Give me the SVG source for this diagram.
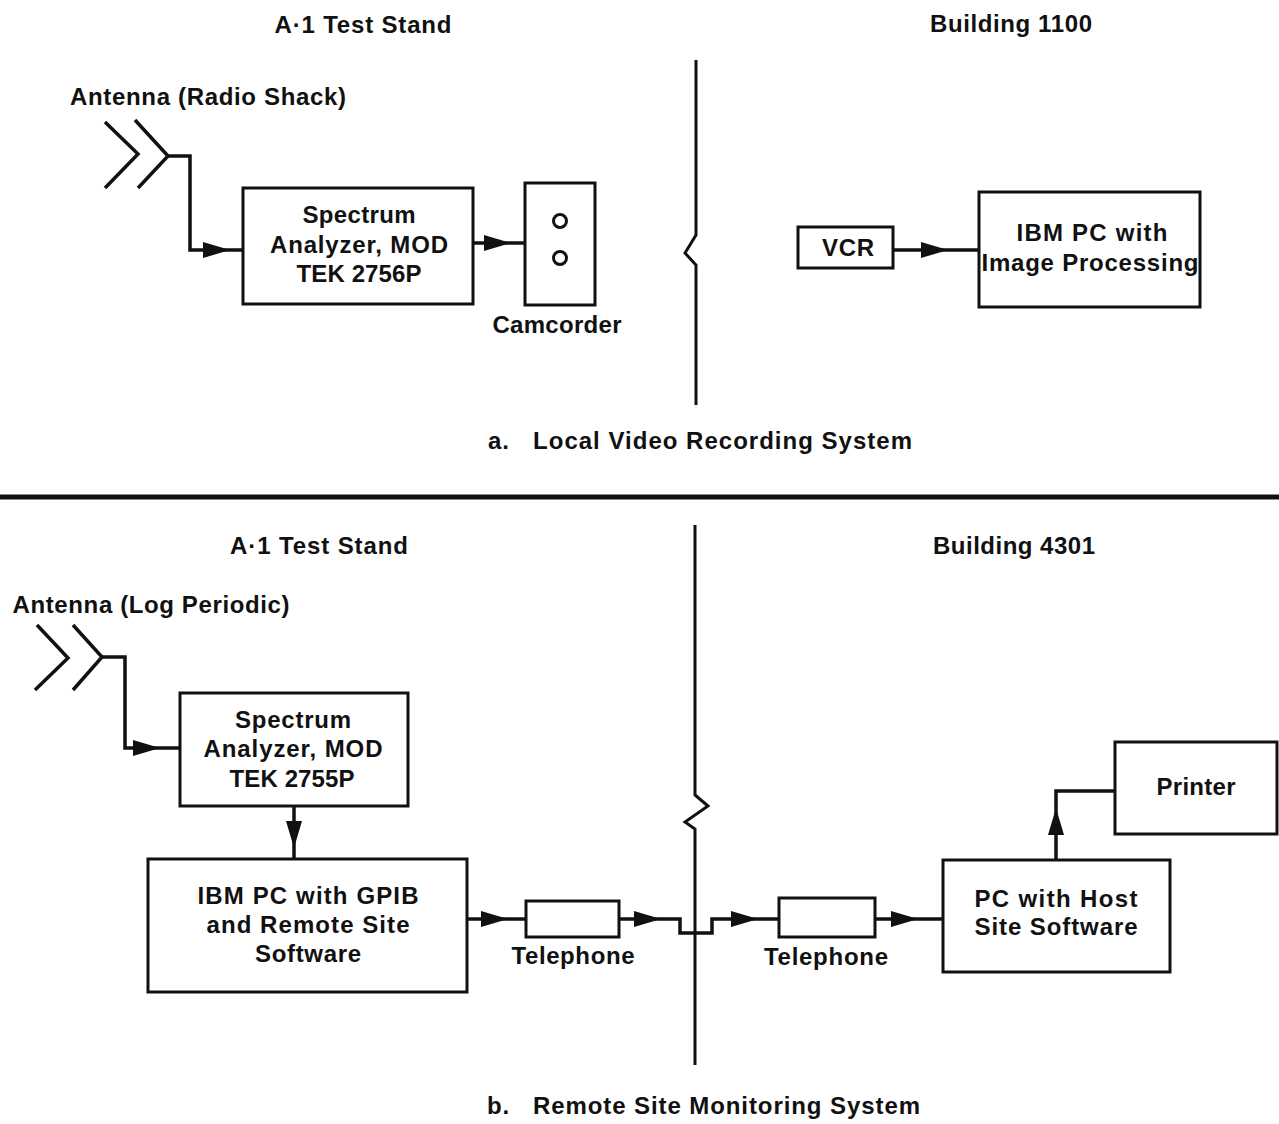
<svg xmlns="http://www.w3.org/2000/svg" xmlns:xlink="http://www.w3.org/1999/xlink" width="1279" height="1124" viewBox="0 0 1279 1124">
  <style>
    text { font-family: "Liberation Sans", Arial, Helvetica, sans-serif; font-weight: bold; font-size: 24px; fill: #111; }
    .box { fill: #fff; stroke: #111; stroke-width: 3; }
    .wire { fill: none; stroke: #111; stroke-width: 3.5; stroke-linejoin: miter; }
    .div { fill: none; stroke: #111; stroke-width: 3; }
    .ah { fill: #111; }
  </style>
  <defs>
    <!-- arrowhead pointing along +x, tip at origin -->
    <path id="ah" class="ah" d="M0,0 L-27,-8 L-27,8 Z"/>
  </defs>
  <rect width="1279" height="1124" fill="#fff"/>

  <!-- section dividers -->
  <g id="dividers">
    <path class="div" d="M696,60 V235 L685,253 L696,265 V405"/>
    <path class="div" d="M695,525 V795 L708,806 L685,822 L695,829 V1065"/>
    <line x1="0" y1="497" x2="1279" y2="497" stroke="#111" stroke-width="5"/>
  </g>

  <!-- headings and captions -->
  <g id="labels">
    <text x="363" y="33" text-anchor="middle" textLength="177" lengthAdjust="spacing">A·1 Test Stand</text>
    <text x="1011" y="32" text-anchor="middle" textLength="162" lengthAdjust="spacing">Building 1100</text>
    <text x="488" y="449" textLength="424" lengthAdjust="spacing" xml:space="preserve">a.   Local Video Recording System</text>
    <text x="319" y="554" text-anchor="middle" textLength="178" lengthAdjust="spacing">A·1 Test Stand</text>
    <text x="1014" y="554" text-anchor="middle" textLength="162" lengthAdjust="spacing">Building 4301</text>
    <text x="487" y="1114" textLength="433" lengthAdjust="spacing" xml:space="preserve">b.   Remote Site Monitoring System</text>
  </g>

  <!-- connectors -->
  <g id="connectors">
    <path class="wire" d="M168,156 H190 V250 H243"/>
    <use xlink:href="#ah" transform="translate(230,250)"/>
    <path class="wire" d="M473,243 H525"/>
    <use xlink:href="#ah" transform="translate(511,243)"/>
    <path class="wire" d="M893,250 H979"/>
    <use xlink:href="#ah" transform="translate(948,250)"/>

    <path class="wire" d="M102,657 H125 V748 H180"/>
    <use xlink:href="#ah" transform="translate(160,748)"/>
    <path class="wire" d="M294,806 V859"/>
    <use xlink:href="#ah" transform="translate(294,848) rotate(90)"/>
    <path class="wire" d="M467,919 H526"/>
    <use xlink:href="#ah" transform="translate(508,919)"/>
    <path class="wire" d="M619,919 H680 V933 H712 V919 H779"/>
    <use xlink:href="#ah" transform="translate(661,919)"/>
    <use xlink:href="#ah" transform="translate(758,919)"/>
    <path class="wire" d="M875,919 H943"/>
    <use xlink:href="#ah" transform="translate(918,919)"/>
    <path class="wire" d="M1056,860 V791 H1115"/>
    <use xlink:href="#ah" transform="translate(1056,808) rotate(-90)"/>
  </g>

  <!-- (a) local video recording -->
  <g id="antenna-radio-shack">
    <path class="wire" d="M105,122 L138,154 L105,188 M135,120 L168,156 L138,188"/>
    <text x="208" y="105" text-anchor="middle" textLength="276" lengthAdjust="spacing">Antenna (Radio Shack)</text>
  </g>
  <g id="spectrum-analyzer-2756">
    <rect class="box" x="243" y="188" width="230" height="116"/>
    <text x="359" y="223" text-anchor="middle" textLength="113" lengthAdjust="spacing">Spectrum</text>
    <text x="359" y="253" text-anchor="middle" textLength="178" lengthAdjust="spacing">Analyzer, MOD</text>
    <text x="359" y="282" text-anchor="middle" textLength="125" lengthAdjust="spacing">TEK 2756P</text>
  </g>
  <g id="camcorder">
    <rect class="box" x="525" y="183" width="70" height="122"/>
    <circle cx="560" cy="221" r="6.5" fill="none" stroke="#111" stroke-width="3"/>
    <circle cx="560" cy="258" r="6.5" fill="none" stroke="#111" stroke-width="3"/>
    <text x="557" y="333" text-anchor="middle" textLength="129" lengthAdjust="spacing">Camcorder</text>
  </g>
  <g id="vcr">
    <rect class="box" x="798" y="227" width="95" height="41"/>
    <text x="848" y="256" text-anchor="middle" textLength="52" lengthAdjust="spacing">VCR</text>
  </g>
  <g id="ibm-pc-image-processing">
    <rect class="box" x="979" y="192" width="221" height="115"/>
    <text x="1092" y="241" text-anchor="middle" textLength="151" lengthAdjust="spacing">IBM PC with</text>
    <text x="1090" y="271" text-anchor="middle" textLength="217" lengthAdjust="spacing">Image Processing</text>
  </g>

  <!-- (b) remote site monitoring -->
  <g id="antenna-log-periodic">
    <path class="wire" d="M37,625 L68,658 L35,690 M73,625 L102,657 L73,690"/>
    <text x="151" y="613" text-anchor="middle" textLength="277" lengthAdjust="spacing">Antenna (Log Periodic)</text>
  </g>
  <g id="spectrum-analyzer-2755">
    <rect class="box" x="180" y="693" width="228" height="113"/>
    <text x="293" y="728" text-anchor="middle" textLength="116" lengthAdjust="spacing">Spectrum</text>
    <text x="293" y="757" text-anchor="middle" textLength="179" lengthAdjust="spacing">Analyzer, MOD</text>
    <text x="292" y="787" text-anchor="middle" textLength="125" lengthAdjust="spacing">TEK 2755P</text>
  </g>
  <g id="ibm-pc-gpib">
    <rect class="box" x="148" y="859" width="319" height="133"/>
    <text x="308" y="904" text-anchor="middle" textLength="221" lengthAdjust="spacing">IBM PC with GPIB</text>
    <text x="308" y="933" text-anchor="middle" textLength="203" lengthAdjust="spacing">and Remote Site</text>
    <text x="308" y="962" text-anchor="middle" textLength="106" lengthAdjust="spacing">Software</text>
  </g>
  <g id="telephone-remote">
    <rect class="box" x="526" y="901" width="93" height="36"/>
    <text x="573" y="964" text-anchor="middle" textLength="123" lengthAdjust="spacing">Telephone</text>
  </g>
  <g id="telephone-host">
    <rect class="box" x="779" y="898" width="96" height="39"/>
    <text x="826" y="965" text-anchor="middle" textLength="124" lengthAdjust="spacing">Telephone</text>
  </g>
  <g id="pc-host-site">
    <rect class="box" x="943" y="860" width="227" height="112"/>
    <text x="1056" y="907" text-anchor="middle" textLength="163" lengthAdjust="spacing">PC with Host</text>
    <text x="1056" y="935" text-anchor="middle" textLength="163" lengthAdjust="spacing">Site Software</text>
  </g>
  <g id="printer">
    <rect class="box" x="1115" y="742" width="162" height="92"/>
    <text x="1196" y="795" text-anchor="middle" textLength="79" lengthAdjust="spacing">Printer</text>
  </g>
</svg>
